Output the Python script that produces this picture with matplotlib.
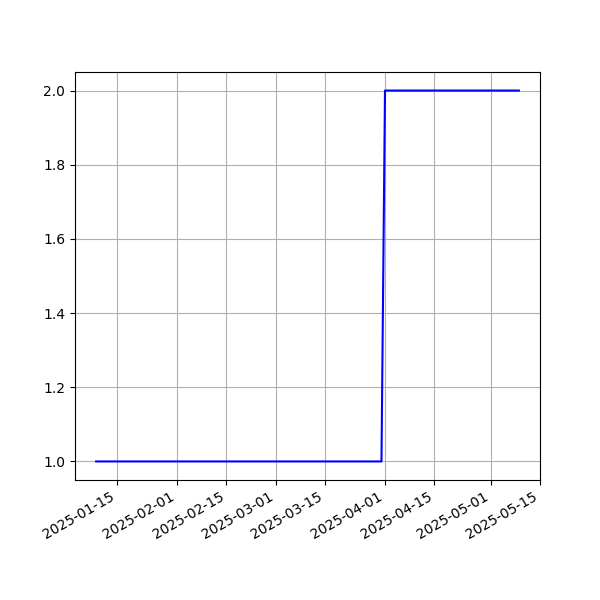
import matplotlib
matplotlib.use('Agg')
import matplotlib.pyplot as plt
import pandas as pd

# turning points of the series (flat in between, one-day jump at April 1st)
dates = ['2025-01-09', '2025-03-31', '2025-04-01', '2025-05-09']
values = [1.0, 1.0, 2.0, 2.0]

x = pd.to_datetime(dates)

fig, ax = plt.subplots(figsize=(6, 6), dpi=100)
ax.plot(x, values, color='blue')
ax.grid(True)
fig.autofmt_xdate()

fig.savefig('out.png')
